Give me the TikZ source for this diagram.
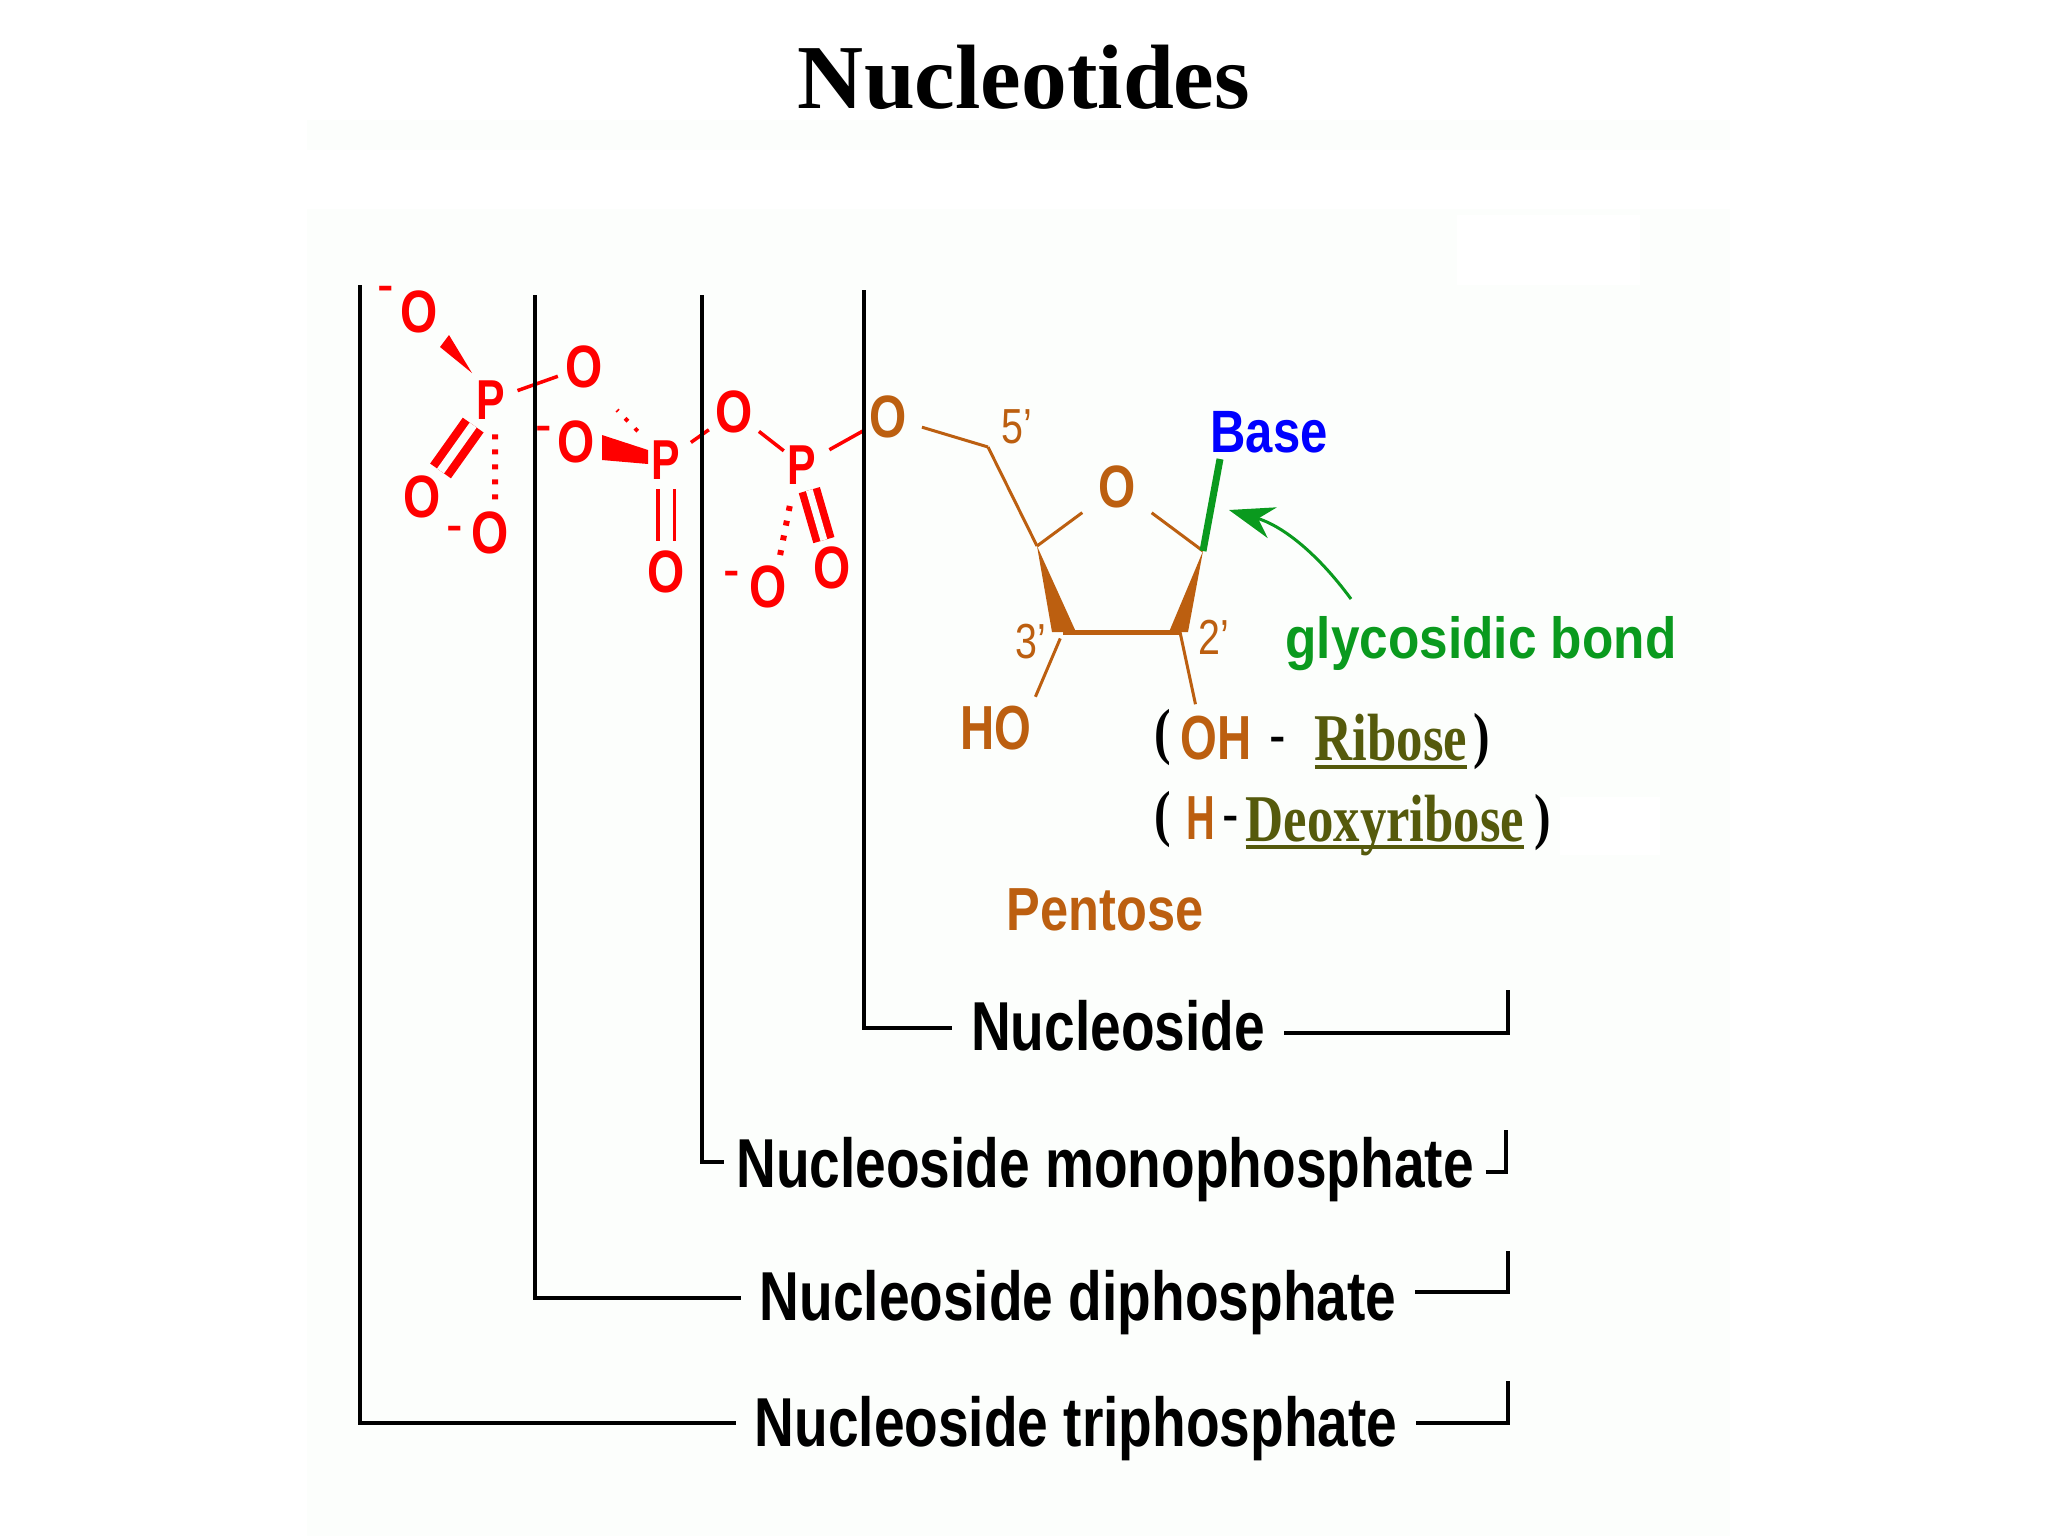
\documentclass[tikz,border=0pt]{standalone}
\usepackage{fontspec}
\setmainfont{Liberation Sans}
\newfontfamily\serifface{Liberation Serif}
\usetikzlibrary{arrows.meta}

\definecolor{sheet}{HTML}{FCFEFC}
\definecolor{phred}{HTML}{FF0000}
\definecolor{sugar}{HTML}{BC5F10}
\definecolor{basegreen}{HTML}{0A9A1E}
\definecolor{oliveink}{HTML}{555A0C}

\begin{document}
\begin{tikzpicture}
  [x=.01cm,y=-.01cm,every node/.style={inner sep=0,outer sep=0},
   oxy/.style={color=phred,xscale=.8,font=\bfseries\fontsize{17}{17}\selectfont},
   phos/.style={color=phred,xscale=.76,font=\bfseries\fontsize{16}{16}\selectfont},
   chg/.style={color=phred,xscale=.83,font=\fontsize{17}{17}\selectfont},
   prime/.style={color=sugar,xscale=.8,font=\fontsize{14}{14}\selectfont},
   group/.style={color=sugar,xscale=.76,font=\bfseries\fontsize{17.7}{18}\selectfont},
   paren/.style={xscale=.8,font=\serifface\bfseries\fontsize{17.7}{18}\selectfont},
   sugarname/.style={color=oliveink,anchor=base,xscale=.79,font=\serifface\bfseries\fontsize{19}{19}\selectfont},
   lab/.style={anchor=base,xscale=.795,inner xsep=.24cm,font=\bfseries\fontsize{19.7}{20}\selectfont},
   bond/.style={phred,line width=.035cm,shorten <=.13cm,shorten >=.08cm},
   dbl/.style={phred,double=sheet,line width=.085cm,double distance=.085cm},
   hash/.style={phred,line width=.06cm,dash pattern=on .05cm off .1cm},
   ring/.style={sugar,line width=.03cm},
   rule/.style={black,line width=.04cm}]

  \fill[white] (0,0) rectangle (2048,1536);
  \fill[sheet] (307,120) rectangle (1730,150);
  \fill[sheet] (307,209) rectangle (1730,1536);
  \fill[white] (1457,215) rectangle (1640,285);
  \fill[white] (1560,797) rectangle (1660,855);
  \useasboundingbox (0,0) rectangle (2048,1536);

  \node (title) [anchor=base,font=\serifface\bfseries\fontsize{26}{27}\selectfont] at (1024,108) {Nucleotides};

  \node[oxy] (o1) at (419,312) {O};
  \node[chg] (m1) at (386,295) {-};
  \node[phos] (p1) at (491,400) {P};
  \node[oxy] (o2) at (584,367) {O};
  \node[oxy] (o3) at (576,442) {O};
  \node[chg] (m3) at (544,435) {-};
  \node[oxy] (o4) at (422,497) {O};
  \node[oxy] (o5) at (490,533) {O};
  \node[chg] (m5) at (455,535) {-};
  \node[phos] (p2) at (666,460) {P};
  \node[oxy] (o6) at (666,572) {O};
  \node[oxy] (o7) at (734,412) {O};
  \node[phos] (p3) at (802,465) {P};
  \node[oxy] (o9) at (832,568) {O};
  \node[oxy] (o10) at (768,587) {O};
  \node[chg] (m10) at (732,580) {-};

  \node[oxy,color=sugar] (o8) at (888,417) {O};
  \node[oxy,color=sugar] (o0) at (1117,487) {O};
  \node[prime] (n5) at (1017,427) {5'};
  \node[prime] (n3) at (1031,642) {3'};
  \node[prime] (n2) at (1214,637) {2'};
  \node[group] (ho) at (996,728) {HO};
  \node[group] (oh) at (1216,738) {OH};
  \node[group,xscale=.84] (hh) at (1201,818) {H};
  \node[paren] (lp1) at (1163,738) {(};
  \node[paren] (rp1) at (1482,742) {)};
  \node[paren] (lp2) at (1163,820) {(};
  \node[paren] (rp2) at (1543,823) {)};
  \node[chg,color=black] (d1) at (1278,746) {-};
  \node[chg,color=black] (d2) at (1231,825) {-};
  \node[sugarname] (rib) at (1391,760) {Ribose};
  \node[sugarname] (deo) at (1385,841) {Deoxyribose};
  \node[anchor=base,color=sugar,xscale=.83,font=\bfseries\fontsize{17.3}{18}\selectfont] (pen) at (1105,930) {Pentose};
  \node[color=blue,xscale=.82,font=\bfseries\fontsize{17}{17}\selectfont] (base) at (1269,432) {Base};
  \node[anchor=base,color=basegreen,xscale=.885,font=\bfseries\fontsize{16.5}{17}\selectfont] (gly) at (1481,658) {glycosidic bond};

  \coordinate (c5) at (988,447);
  \coordinate (c4) at (1037,546);
  \coordinate (c3) at (1063,632);
  \coordinate (c2) at (1180,632);
  \coordinate (c1) at (1203,551);
  \coordinate (c3l) at (1052,632);
  \coordinate (c3r) at (1076,632);
  \coordinate (c2l) at (1169,632);
  \coordinate (c2r) at (1188,632);
  \coordinate (bt) at (1220,459);
  \coordinate (as) at (1351,599);
  \coordinate (at) at (1229,510);
  \coordinate (w1) at (440,347);
  \coordinate (w2) at (449,335);
  \coordinate (w3) at (472,373);
  \coordinate (w4) at (602,435);
  \coordinate (w5) at (602,460);
  \coordinate (w6) at (648,464);
  \coordinate (w7) at (648,450);
  \coordinate (h1) at (617,410);

  \draw[bond] (p1) -- (o2);
  \draw[bond] (p2) -- (o7);
  \draw[bond,shorten <=.08cm,shorten >=.05cm] (o7) -- (p3);
  \draw[bond,shorten <=.15cm,shorten >=.07cm] (p3) -- (o8);
  \fill[phred] (w1) -- (w2) -- (w3) -- cycle;
  \fill[phred] (w4) -- (w7) -- (w6) -- (w5) -- cycle;
  \draw[dbl,shorten <=.07cm,shorten >=.06cm] (p1) -- (o4);
  \draw[dbl,line width=.075cm,double distance=.07cm,shorten <=.06cm,shorten >=.07cm] (p3) -- (o9);
  \draw[dbl,line width=.035cm,double distance=.13cm,shorten <=.1cm,shorten >=.1cm] (p2) -- (o6);
  \draw[hash,shorten <=.15cm,shorten >=.09cm] ([xshift=.04cm]p1.south) -- ([xshift=.05cm]o5.north);
  \draw[hash,shorten <=.22cm,shorten >=.03cm] ([xshift=-.08cm]p3.south) -- ([xshift=.1cm]o10.north);
  \draw[hash,line width=.04cm,dash pattern=on .04cm off .1cm,shorten <=.2cm] (p2) -- (h1);

  \draw[ring,shorten <=.16cm] (o8) -- (c5);
  \draw[ring] (c5) -- (c4);
  \draw[ring,shorten >=.2cm] (c4) -- (o0);
  \draw[ring,shorten <=.2cm] (o0) -- (c1);
  \draw[ring,line width=.05cm] (c3) -- (c2);
  \draw[ring,shorten <=.07cm,shorten >=.1cm] (c3) -- (ho.north east);
  \draw[ring,shorten >=.12cm] (c2) -- ([xshift=-.18cm]oh.north);
  \fill[sugar] (c4) -- (c3l) -- (c3r) -- cycle;
  \fill[sugar] (c1) -- (c2l) -- (c2r) -- cycle;
  \draw[basegreen,line width=.07cm] (c1) -- (bt);
  \draw[basegreen,line width=.03cm,-{Stealth[length=.45cm,width=.32cm]}] (as) .. controls (1315,550) and (1280,525) .. (at);

  \draw[oliveink,line width=.045cm] ([yshift=-.07cm]rib.base west) -- ([yshift=-.07cm]rib.base east);
  \draw[oliveink,line width=.045cm] ([yshift=-.06cm]deo.base west) -- ([yshift=-.06cm]deo.base east);

  \node[lab] (nuc) at (1118,1050) {Nucleoside};
  \node[lab,inner xsep=.15cm] (mono) at (1105,1187) {Nucleoside monophosphate};
  \node[lab] (di) at (1078,1320) {Nucleoside diphosphate};
  \node[lab] (tri) at (1076,1446) {Nucleoside triphosphate};

  \coordinate (t1) at (864,290);
  \coordinate (t2) at (702,295);
  \coordinate (t3) at (535,295);
  \coordinate (t4) at (360,285);
  \coordinate (r1) at (1508,990);
  \coordinate (r2) at (1506,1130);
  \coordinate (r3) at (1508,1251);
  \coordinate (r4) at (1508,1381);

  \draw[rule] (t1) |- ([yshift=-.03cm]nuc.west);
  \draw[rule] (t2) |- ([yshift=.07cm]mono.west);
  \draw[rule] (t3) |- ([yshift=.04cm]di.west);
  \draw[rule] (t4) |- ([yshift=.05cm]tri.west);
  \draw[rule] ([yshift=-.08cm]nuc.east) -| (r1);
  \draw[rule] ([yshift=-.03cm]mono.east) -| (r2);
  \draw[rule] ([yshift=.1cm]di.east) -| (r3);
  \draw[rule] ([yshift=.05cm]tri.east) -| (r4);
\end{tikzpicture}
\end{document}
